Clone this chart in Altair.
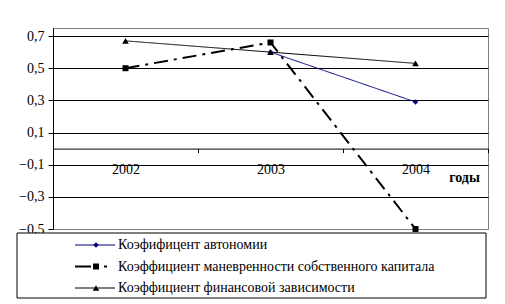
import altair as alt
import pandas as pd

years = ["2002", "2003", "2004"]
autonomy = [None, 0.60, 0.29]
maneuver = [0.50, 0.66, -0.50]
dependence = [0.67, 0.60, 0.53]
series_names = [
    "Коэфифицент автономии",
    "Коэффициент маневренности собственного капитала",
    "Коэффициент финансовой зависимости",
]
y_ticks = [0.7, 0.5, 0.3, 0.1, -0.1, -0.3, -0.5]
x_title = "годы"

W, H = 435, 201
YMIN, YMAX = -0.5, 0.75
FONT = "Times New Roman, Liberation Serif, serif"

colors = ["#000080", "#000000", "#000000"]
dashes = [[1, 0], [14, 6, 3, 6], [1, 0]]
widths = [1, 2, 1]
shapes = ["diamond", "square", "triangle-up"]
sizes = [30, 36, 44]

zero_px = H * YMAX / (YMAX - YMIN)

x_enc = alt.X(
    "year:N",
    sort=years,
    scale=alt.Scale(type="band", paddingInner=0, paddingOuter=0, domain=years),
    axis=alt.Axis(
        offset=-(H - zero_px),
        tickBand="extent",
        tickSize=4,
        tickColor="black",
        domainColor="black",
        labelAngle=0,
        labelFont=FONT,
        labelFontSize=14,
        labelColor="black",
        labelPadding=10,
        labelOverlap=False,
        title=x_title,
        titleFont=FONT,
        titleFontSize=14,
        titleFontWeight="bold",
        titleColor="black",
        titleX=411,
        titleY=29,
        titleAlign="center",
        titleBaseline="middle",
        grid=False,
    ),
)
y_enc = alt.Y(
    "value:Q",
    scale=alt.Scale(domain=[YMIN, YMAX], nice=False, zero=False),
    axis=alt.Axis(
        values=y_ticks,
        tickCount=len(y_ticks),
        labelExpr="replace(format(datum.value, '.1f'), '.', ',')",
        labelOverlap=False,
        grid=True,
        gridColor={"condition": {"test": "datum.value <= -0.5", "value": "#808080"}, "value": "black"},
        gridWidth=1,
        domainColor="black",
        tickColor="black",
        tickSize=5,
        labelFont=FONT,
        labelFontSize=14,
        labelColor="black",
        labelPadding=4,
        title=None,
    ),
)

layers = []
for i, (name, vals) in enumerate(zip(series_names, [autonomy, maneuver, dependence])):
    d = pd.DataFrame({"year": years, "value": vals, "series": [name] * len(years)})
    layers.append(
        alt.Chart(d).mark_line(color=colors[i], strokeWidth=widths[i], strokeDash=dashes[i]).encode(
            x=x_enc, y=y_enc
        )
    )
for i, (name, vals) in enumerate(zip(series_names, [autonomy, maneuver, dependence])):
    d = pd.DataFrame({"year": years, "value": vals, "series": [name] * len(years)})
    layers.append(
        alt.Chart(d).mark_point(filled=True, opacity=1, shape=shapes[i], size=sizes[i], color=colors[i]).encode(
            x=x_enc, y=y_enc
        )
    )

one = pd.DataFrame({"a": [0]})
layers.append(
    alt.Chart(one).mark_rect(fill="white", stroke="black", strokeWidth=1).encode(
        x=alt.value(-36), x2=alt.value(433), y=alt.value(205), y2=alt.value(270)
    )
)
leg_dashes = [[1, 0], [16, 13, 3, 20], [1, 0]]
for i, name in enumerate(series_names):
    ly = 217 + i * 21.5
    d = pd.DataFrame({"label": [name]})
    layers.append(
        alt.Chart(d).mark_rule(color=colors[i], strokeWidth=widths[i], strokeDash=leg_dashes[i]).encode(
            x=alt.value(22), x2=alt.value(62), y=alt.value(ly)
        )
    )
    layers.append(
        alt.Chart(d).mark_point(filled=True, opacity=1, shape=shapes[i], size=sizes[i], color=colors[i]).encode(
            x=alt.value(43), y=alt.value(ly)
        )
    )
    layers.append(
        alt.Chart(d).mark_text(font=FONT, fontSize=14, align="left", baseline="middle", color="black").encode(
            x=alt.value(65), y=alt.value(ly), text="label:N"
        )
    )

chart = alt.layer(*layers).properties(
    width=W,
    height=H,
    padding={"left": 53, "top": 28, "right": 17, "bottom": 75},
    autosize=alt.AutoSizeParams(type="none"),
    background="white",
).configure_view(stroke="#808080", strokeWidth=1)

chart.save("out.html", embed_options={"renderer": "svg", "actions": False})
